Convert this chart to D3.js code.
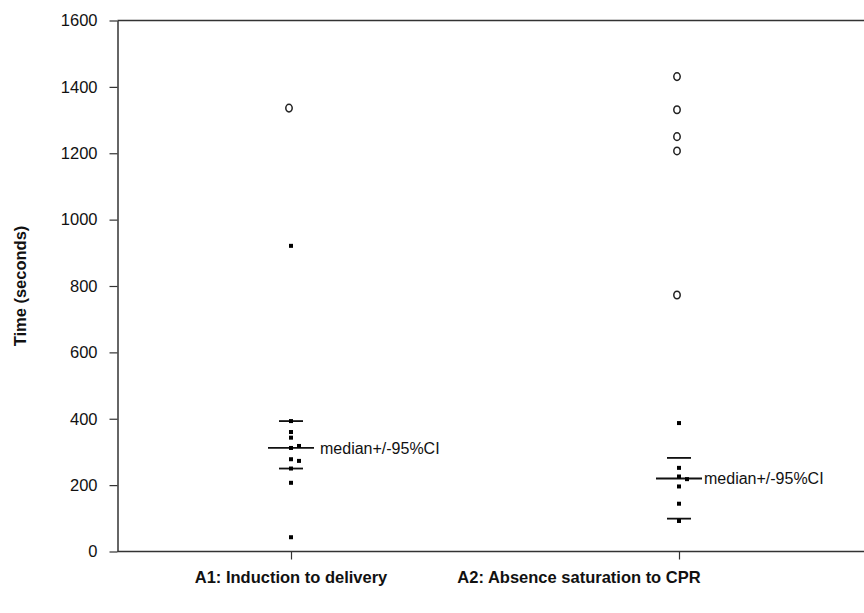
<!DOCTYPE html>
<html>
<head>
<meta charset="utf-8">
<script src="https://cdn.jsdelivr.net/npm/d3@7"></script>
<style>
  body { margin: 0; background: #fff; }
  svg text { font-family: Arial, "Liberation Sans", sans-serif; }
</style>
</head>
<body>
<svg id="chart" width="864" height="613"></svg>
<script>
// categories and values (seconds)
var cats = ["A1: Induction to delivery", "A2: Absence saturation to CPR"];

var pointsA1 = [921, 393, 360, 343, 312, 318, 278, 273, 250, 207, 43];
var pointsA2 = [387, 252, 226, 218, 196, 144, 92];

var outliersA1 = [1336];
var outliersA2 = [1431, 1331, 1250, 1207, 773];

var medians = [312, 220];
var ciLow   = [250, 99];
var ciHigh  = [393, 282];

var yTicks = [0, 200, 400, 600, 800, 1000, 1200, 1400, 1600];
var noteText = "median+/-95%CI";

var svg = d3.select("#chart");
var pLeft = 117.5, pRight = 870, pTop = 20.5, pBottom = 551.5;

var y = d3.scaleLinear().domain([0, 1600]).range([pBottom, pTop]);
var x = d3.scalePoint().domain(cats).range([291, 679]);

var axisColor = "#333";

// frame: top line + x axis line
svg.append("line")
  .attr("x1", pLeft).attr("x2", pRight)
  .attr("y1", pTop).attr("y2", pTop)
  .attr("stroke", axisColor).attr("stroke-width", 1.5);

var gx = svg.append("g")
  .attr("transform", "translate(0," + pBottom + ")")
  .call(d3.axisBottom(x).tickSize(8).tickSizeOuter(0).tickFormat(""));
gx.select(".domain").remove();
gx.selectAll(".tick line").attr("stroke", axisColor).attr("stroke-width", 1.2);
svg.append("line")
  .attr("x1", pLeft).attr("x2", pRight)
  .attr("y1", pBottom).attr("y2", pBottom)
  .attr("stroke", axisColor).attr("stroke-width", 1.5);

var gy = svg.append("g")
  .attr("transform", "translate(" + pLeft + ",0)")
  .call(d3.axisLeft(y).tickValues(yTicks).tickSize(8).tickSizeOuter(0).tickPadding(12).tickFormat(d3.format("d")));
gy.select(".domain").attr("stroke", axisColor).attr("stroke-width", 1.5);
gy.selectAll(".tick line").attr("stroke", axisColor).attr("stroke-width", 1.2);
gy.selectAll(".tick text").attr("font-size", 16.5).attr("fill", "#111");

// y title
svg.append("text")
  .attr("transform", "translate(26," + ((pTop + pBottom) / 2) + ") rotate(-90)")
  .attr("text-anchor", "middle")
  .attr("font-size", 16.5)
  .attr("font-weight", "bold")
  .attr("fill", "#111")
  .text("Time (seconds)");

// category labels (second one sits left of its tick in the original)
svg.selectAll(".cat")
  .data(cats)
  .enter()
  .append("text")
  .attr("class", "cat")
  .attr("x", function(d, i) { return i == 0 ? x(d) : x(d) - 100; })
  .attr("y", 583)
  .attr("text-anchor", "middle")
  .attr("font-size", 16.5)
  .attr("font-weight", "bold")
  .attr("fill", "#111")
  .text(function(d) { return d; });

// simple dodge for points that sit on top of each other
var dodge = function(vals) {
  var placed = [];
  return vals.map(function(v) {
    var off = 0;
    while (placed.some(function(p) { return p.off == off && Math.abs(y(p.v) - y(v)) < 4; })) off += 8;
    placed.push({v: v, off: off});
    return {v: v, off: off};
  });
};

var allPoints = [pointsA1, pointsA2];
var allOut = [outliersA1, outliersA2];

cats.forEach(function(c, i) {
  var cx = x(c);
  var g = svg.append("g");

  // median and CI bars
  g.append("line")
    .attr("x1", cx - 23).attr("x2", cx + 23)
    .attr("y1", y(medians[i])).attr("y2", y(medians[i]))
    .attr("stroke", "#111").attr("stroke-width", 1.8);
  [ciLow[i], ciHigh[i]].forEach(function(v) {
    g.append("line")
      .attr("x1", cx - 12).attr("x2", cx + 12)
      .attr("y1", y(v)).attr("y2", y(v))
      .attr("stroke", "#111").attr("stroke-width", 1.8);
  });

  g.selectAll("rect")
    .data(dodge(allPoints[i]))
    .enter()
    .append("rect")
    .attr("x", function(d) { return cx + d.off - 2; })
    .attr("y", function(d) { return y(d.v) - 2; })
    .attr("width", 4)
    .attr("height", 4)
    .attr("fill", "#000");

  g.selectAll("ellipse")
    .data(allOut[i])
    .enter()
    .append("ellipse")
    .attr("cx", cx - 2)
    .attr("cy", function(d) { return y(d); })
    .attr("rx", 3.2)
    .attr("ry", 3.8)
    .attr("fill", "none")
    .attr("stroke", "#222")
    .attr("stroke-width", 1.5);

  g.append("text")
    .attr("x", i == 0 ? cx + 29 : cx + 25)
    .attr("y", y(medians[i]))
    .attr("dy", "0.35em")
    .attr("font-size", 16)
    .attr("fill", "#111")
    .text(noteText);
});
</script>
</body>
</html>
